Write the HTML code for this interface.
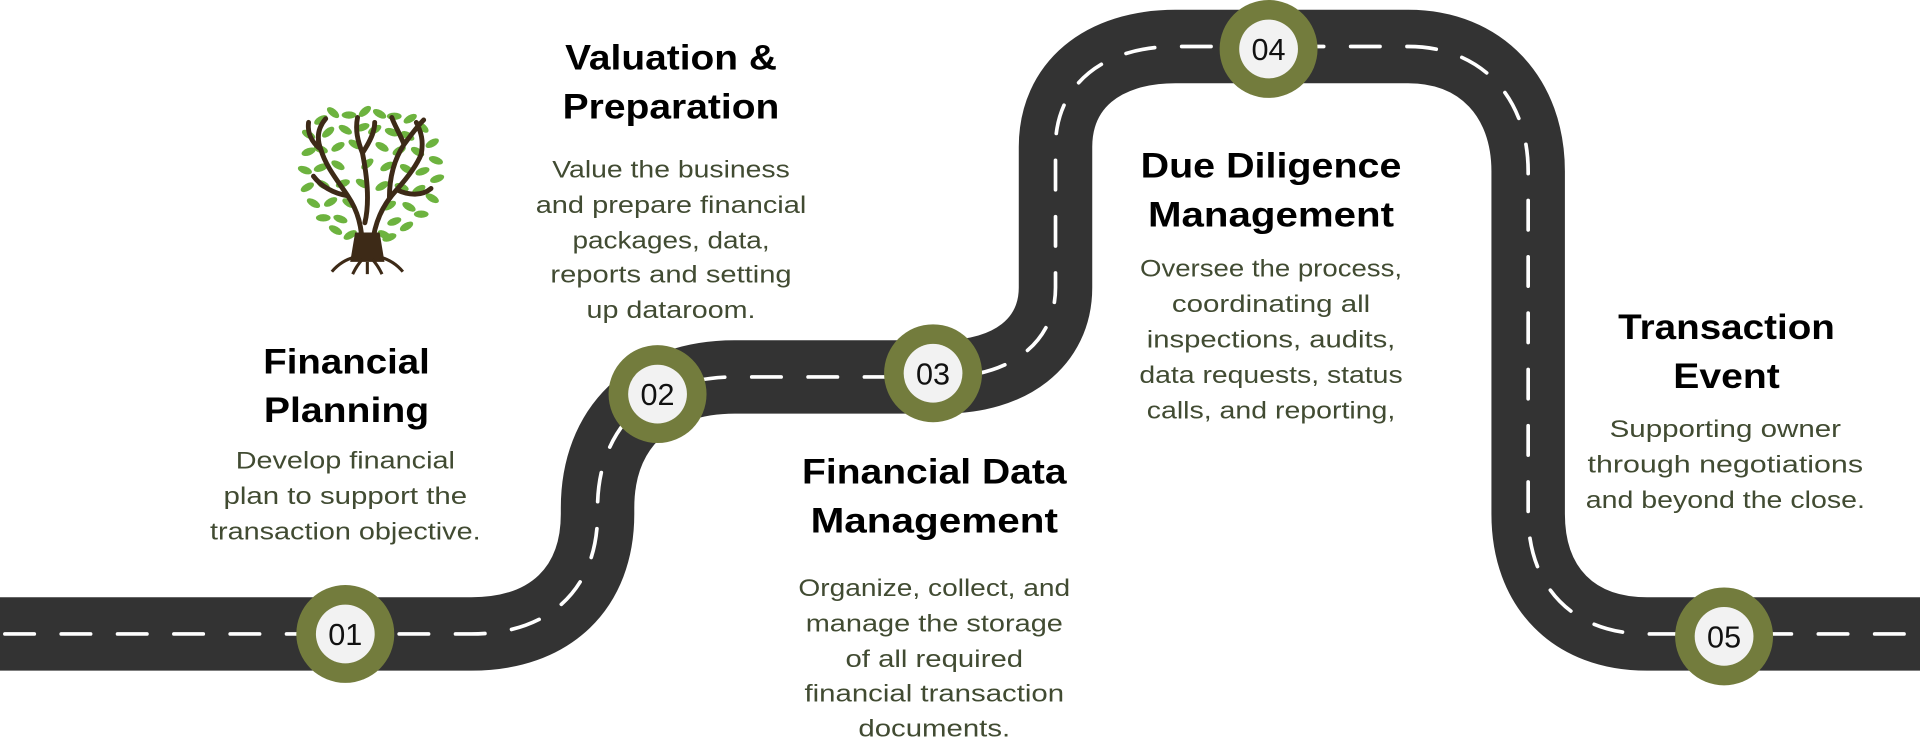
<!DOCTYPE html>
<html><head><meta charset="utf-8"><style>
html,body{margin:0;padding:0;background:#fff;}
svg{display:block}
.t{font-family:"Liberation Sans",sans-serif;font-weight:bold;font-size:29px;fill:#000;text-anchor:middle}
.b{font-family:"Liberation Sans",sans-serif;font-size:20px;fill:#414b32;text-anchor:middle}
.n{font-family:"Liberation Sans",sans-serif;font-size:25px;fill:#111;text-anchor:middle}
</style></head><body>
<svg width="1920" height="749" viewBox="0 0 1568 612" preserveAspectRatio="none" xmlns="http://www.w3.org/2000/svg">
<path d="M0,518 H385 C450,518 488,480 488,420 L488,415 C488,350 530,308 600,308 H770 C825,308 862,280 862,235 V120 C862,70 900,38 960,38 H1150 C1210,38 1248,80 1248,140 V420 C1248,480 1285,518 1345,518 H1568" fill="none" stroke="#333" stroke-width="60"/>
<path d="M0,518 H385 C450,518 488,480 488,420 L488,415 C488,350 530,308 600,308 H770 C825,308 862,280 862,235 V120 C862,70 900,38 960,38 H1150 C1210,38 1248,80 1248,140 V420 C1248,480 1285,518 1345,518 H1568" fill="none" stroke="#fff" stroke-width="3" stroke-linecap="round" stroke-dasharray="24 22" stroke-dashoffset="-4"/>
<!-- tree -->
<g>
<g fill="#6db33f">
<ellipse cx="262" cy="98" rx="6" ry="3" transform="rotate(-30 262 98)"/><ellipse cx="272" cy="92" rx="6" ry="3" transform="rotate(40 272 92)"/>
<ellipse cx="285" cy="94" rx="6" ry="3"/><ellipse cx="298" cy="91" rx="6" ry="3" transform="rotate(-40 298 91)"/>
<ellipse cx="310" cy="93" rx="6" ry="3" transform="rotate(30 310 93)"/><ellipse cx="322" cy="95" rx="6" ry="3"/>
<ellipse cx="335" cy="97" rx="6" ry="3" transform="rotate(-30 335 97)"/><ellipse cx="345" cy="104" rx="6" ry="3" transform="rotate(40 345 104)"/>
<ellipse cx="252" cy="110" rx="6" ry="3" transform="rotate(30 252 110)"/><ellipse cx="252" cy="124" rx="6" ry="3" transform="rotate(-20 252 124)"/>
<ellipse cx="249" cy="139" rx="6" ry="3" transform="rotate(20 249 139)"/><ellipse cx="251" cy="153" rx="6" ry="3" transform="rotate(-30 251 153)"/>
<ellipse cx="256" cy="166" rx="6" ry="3" transform="rotate(30 256 166)"/><ellipse cx="264" cy="178" rx="6" ry="3"/>
<ellipse cx="353" cy="117" rx="6" ry="3" transform="rotate(-30 353 117)"/><ellipse cx="356" cy="131" rx="6" ry="3" transform="rotate(20 356 131)"/>
<ellipse cx="357" cy="146" rx="6" ry="3" transform="rotate(-20 357 146)"/><ellipse cx="353" cy="162" rx="6" ry="3" transform="rotate(30 353 162)"/>
<ellipse cx="344" cy="175" rx="6" ry="3"/><ellipse cx="332" cy="185" rx="6" ry="3" transform="rotate(-30 332 185)"/>
<ellipse cx="274" cy="188" rx="6" ry="3" transform="rotate(30 274 188)"/><ellipse cx="318" cy="194" rx="6" ry="3" transform="rotate(-20 318 194)"/>
<ellipse cx="268" cy="108" rx="6" ry="3" transform="rotate(-40 268 108)"/><ellipse cx="282" cy="106" rx="6" ry="3" transform="rotate(30 282 106)"/>
<ellipse cx="296" cy="104" rx="6" ry="3" transform="rotate(-20 296 104)"/>
<ellipse cx="306" cy="106" rx="6" ry="3" transform="rotate(-30 306 106)"/><ellipse cx="320" cy="108" rx="6" ry="3" transform="rotate(20 320 108)"/><ellipse cx="333" cy="111" rx="6" ry="3" transform="rotate(30 333 111)"/>
<ellipse cx="262" cy="122" rx="6" ry="3" transform="rotate(20 262 122)"/><ellipse cx="276" cy="120" rx="6" ry="3" transform="rotate(-30 276 120)"/><ellipse cx="290" cy="118" rx="6" ry="3" transform="rotate(30 290 118)"/>
<ellipse cx="312" cy="120" rx="6" ry="3" transform="rotate(30 312 120)"/><ellipse cx="326" cy="123" rx="6" ry="3" transform="rotate(-30 326 123)"/><ellipse cx="341" cy="124" rx="6" ry="3" transform="rotate(30 341 124)"/>
<ellipse cx="262" cy="137" rx="6" ry="3" transform="rotate(-20 262 137)"/><ellipse cx="276" cy="135" rx="6" ry="3" transform="rotate(30 276 135)"/><ellipse cx="300" cy="134" rx="6" ry="3" transform="rotate(-40 300 134)"/>
<ellipse cx="316" cy="136" rx="6" ry="3" transform="rotate(-30 316 136)"/><ellipse cx="332" cy="138" rx="6" ry="3" transform="rotate(30 332 138)"/><ellipse cx="345" cy="140" rx="6" ry="3" transform="rotate(-20 345 140)"/>
<ellipse cx="264" cy="151" rx="6" ry="3" transform="rotate(30 264 151)"/><ellipse cx="280" cy="150" rx="6" ry="3" transform="rotate(-20 280 150)"/><ellipse cx="296" cy="150" rx="6" ry="3" transform="rotate(30 296 150)"/>
<ellipse cx="312" cy="152" rx="6" ry="3" transform="rotate(-30 312 152)"/><ellipse cx="328" cy="153" rx="6" ry="3" transform="rotate(20 328 153)"/><ellipse cx="342" cy="155" rx="6" ry="3" transform="rotate(-30 342 155)"/>
<ellipse cx="270" cy="165" rx="6" ry="3" transform="rotate(-30 270 165)"/><ellipse cx="285" cy="166" rx="6" ry="3" transform="rotate(30 285 166)"/>
<ellipse cx="318" cy="168" rx="6" ry="3" transform="rotate(-30 318 168)"/><ellipse cx="334" cy="169" rx="6" ry="3" transform="rotate(30 334 169)"/>
<ellipse cx="278" cy="179" rx="6" ry="3" transform="rotate(20 278 179)"/><ellipse cx="322" cy="181" rx="6" ry="3" transform="rotate(-20 322 181)"/>
<ellipse cx="286" cy="192" rx="6" ry="3" transform="rotate(-30 286 192)"/><ellipse cx="314" cy="192" rx="6" ry="3" transform="rotate(30 314 192)"/>
</g>
<path d="M296,205 C296,185 292,172 284,160 C276,148 266,136 262,122 M284,160 C272,158 262,152 256,144 M262,122 C258,112 260,104 266,97 M262,122 C254,116 251,108 252,100 M298,182 C302,165 300,145 296,125 M296,125 C292,115 290,106 292,96 M296,125 C302,116 306,108 306,100 M304,200 C306,182 312,168 324,155 C332,146 340,136 344,126 M324,155 C334,160 345,160 352,154 M344,126 C346,115 344,108 340,100 M318,162 C318,145 322,130 330,118 M330,118 C326,108 322,102 320,96 M330,118 C336,110 340,104 346,98" fill="none" stroke="#3d2a17" stroke-width="4" stroke-linecap="round"/>
<path d="M290,190 L310,190 L314,214 L286,214 Z" fill="#3d2a17"/>
<path d="M290,210 C282,212 276,216 271,222 M310,210 C318,212 324,216 329,222 M296,212 C292,216 290,220 288,224 M304,212 C308,216 310,220 312,224 M300,214 L300,224" stroke="#3d2a17" stroke-width="2.5" fill="none"/>
</g>
<!-- markers -->
<g>
<circle cx="282" cy="518" r="40" fill="#737c3d"/><circle cx="282" cy="518" r="24" fill="#f2f2f2"/><text class="n" x="282" y="527">01</text>
<circle cx="537" cy="322" r="40" fill="#737c3d"/><circle cx="537" cy="322" r="24" fill="#f2f2f2"/><text class="n" x="537" y="331">02</text>
<circle cx="762" cy="305" r="40" fill="#737c3d"/><circle cx="762" cy="305" r="24" fill="#f2f2f2"/><text class="n" x="762" y="314">03</text>
<circle cx="1036" cy="40" r="40" fill="#737c3d"/><circle cx="1036" cy="40" r="24" fill="#f2f2f2"/><text class="n" x="1036" y="49">04</text>
<circle cx="1408" cy="520" r="40" fill="#737c3d"/><circle cx="1408" cy="520" r="24" fill="#f2f2f2"/><text class="n" x="1408" y="529">05</text>
</g>
<!-- texts -->
<text class="t" x="283" y="305" textLength="136" lengthAdjust="spacingAndGlyphs">Financial</text>
<text class="t" x="283" y="345" textLength="135" lengthAdjust="spacingAndGlyphs">Planning</text>
<text class="b" x="282" y="383" textLength="179" lengthAdjust="spacingAndGlyphs">Develop financial</text>
<text class="b" x="282" y="412" textLength="199" lengthAdjust="spacingAndGlyphs">plan to support the</text>
<text class="b" x="282" y="441" textLength="221" lengthAdjust="spacingAndGlyphs">transaction objective.</text>

<text class="t" x="548" y="57" textLength="173" lengthAdjust="spacingAndGlyphs">Valuation &amp;</text>
<text class="t" x="548" y="97" textLength="177" lengthAdjust="spacingAndGlyphs">Preparation</text>
<text class="b" x="548" y="145" textLength="194" lengthAdjust="spacingAndGlyphs">Value the business</text>
<text class="b" x="548" y="174" textLength="221" lengthAdjust="spacingAndGlyphs">and prepare financial</text>
<text class="b" x="548" y="203" textLength="161" lengthAdjust="spacingAndGlyphs">packages, data,</text>
<text class="b" x="548" y="231" textLength="197" lengthAdjust="spacingAndGlyphs">reports and setting</text>
<text class="b" x="548" y="260" textLength="138" lengthAdjust="spacingAndGlyphs">up dataroom.</text>

<text class="t" x="763" y="395" textLength="216" lengthAdjust="spacingAndGlyphs">Financial Data</text>
<text class="t" x="763" y="435" textLength="202" lengthAdjust="spacingAndGlyphs">Management</text>
<text class="b" x="763" y="487" textLength="222" lengthAdjust="spacingAndGlyphs">Organize, collect, and</text>
<text class="b" x="763" y="516" textLength="210" lengthAdjust="spacingAndGlyphs">manage the storage</text>
<text class="b" x="763" y="545" textLength="145" lengthAdjust="spacingAndGlyphs">of all required</text>
<text class="b" x="763" y="573" textLength="212" lengthAdjust="spacingAndGlyphs">financial transaction</text>
<text class="b" x="763" y="602" textLength="124" lengthAdjust="spacingAndGlyphs">documents.</text>

<text class="t" x="1038" y="145" textLength="213" lengthAdjust="spacingAndGlyphs">Due Diligence</text>
<text class="t" x="1038" y="185" textLength="201" lengthAdjust="spacingAndGlyphs">Management</text>
<text class="b" x="1038" y="226" textLength="214" lengthAdjust="spacingAndGlyphs">Oversee the process,</text>
<text class="b" x="1038" y="255" textLength="162" lengthAdjust="spacingAndGlyphs">coordinating all</text>
<text class="b" x="1038" y="284" textLength="203" lengthAdjust="spacingAndGlyphs">inspections, audits,</text>
<text class="b" x="1038" y="313" textLength="215" lengthAdjust="spacingAndGlyphs">data requests, status</text>
<text class="b" x="1038" y="342" textLength="203" lengthAdjust="spacingAndGlyphs">calls, and reporting,</text>

<text class="t" x="1410" y="277" textLength="177" lengthAdjust="spacingAndGlyphs">Transaction</text>
<text class="t" x="1410" y="317" textLength="87" lengthAdjust="spacingAndGlyphs">Event</text>
<text class="b" x="1409" y="357" textLength="189" lengthAdjust="spacingAndGlyphs">Supporting owner</text>
<text class="b" x="1409" y="386" textLength="225" lengthAdjust="spacingAndGlyphs">through negotiations</text>
<text class="b" x="1409" y="415" textLength="228" lengthAdjust="spacingAndGlyphs">and beyond the close.</text>
</svg>
</body></html>
